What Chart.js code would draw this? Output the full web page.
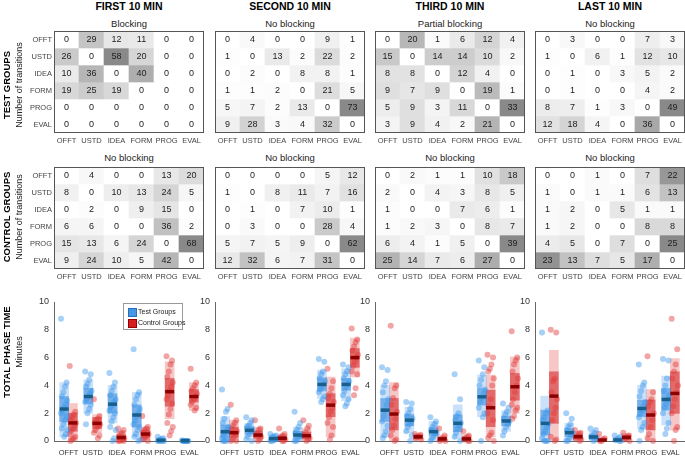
<!DOCTYPE html>
<html><head><meta charset="utf-8">
<script src="https://cdn.jsdelivr.net/npm/chart.js@4/dist/chart.umd.min.js"></script>
<style>
body{margin:0;background:#fff;}
#root{position:relative;width:685px;height:457px;overflow:hidden;font-family:"Liberation Sans",Arial,sans-serif;}
.c{position:absolute;}
.t{position:absolute;white-space:nowrap;color:#111;line-height:1;}
</style></head><body><div id="root"></div>
<script>
// ---------- DATA ----------
const codes = ['OFFT','USTD','IDEA','FORM','PROG','EVAL'];
const periods = ['FIRST 10 MIN','SECOND 10 MIN','THIRD 10 MIN','LAST 10 MIN'];
const testConditions = ['Blocking','No blocking','Partial blocking','No blocking'];
const controlConditions = ['No blocking','No blocking','No blocking','No blocking'];
const yTicks = [0,2,4,6,8,10];

// transition counts (rows: from, cols: to)
const test1 = [[0,29,12,11,0,0],[26,0,58,20,0,0],[10,36,0,40,0,0],[19,25,19,0,0,0],[0,0,0,0,0,0],[0,0,0,0,0,0]];
const test2 = [[0,4,0,0,9,1],[1,0,13,2,22,2],[0,2,0,8,8,1],[1,1,2,0,21,5],[5,7,2,13,0,73],[9,28,3,4,32,0]];
const test3 = [[0,20,1,6,12,4],[15,0,14,14,10,2],[8,8,0,12,4,0],[9,7,9,0,19,1],[5,9,3,11,0,33],[3,9,4,2,21,0]];
const test4 = [[0,3,0,0,7,3],[1,0,6,1,12,10],[0,1,0,3,5,2],[0,1,0,0,4,2],[8,7,1,3,0,49],[12,18,4,0,36,0]];
const ctrl1 = [[0,4,0,0,13,20],[8,0,10,13,24,5],[0,2,0,9,15,0],[6,6,0,0,36,2],[15,13,6,24,0,68],[9,24,10,5,42,0]];
const ctrl2 = [[0,0,0,0,5,12],[1,0,8,11,7,16],[0,1,0,7,10,1],[0,3,0,0,28,4],[5,7,5,9,0,62],[12,32,6,7,31,0]];
const ctrl3 = [[0,2,1,1,10,18],[2,0,4,3,8,5],[1,0,0,7,6,1],[1,2,3,0,8,7],[6,4,1,5,0,39],[25,14,7,6,27,0]];
const ctrl4 = [[0,0,1,0,7,22],[1,0,1,1,6,13],[1,2,0,5,1,1],[1,2,0,0,8,8],[4,5,0,7,0,25],[23,13,7,5,17,0]];

// total phase time (minutes) — period 1
const p1TestMean = [2.3,3.2,2.65,1.87,0.05,0.02];
const p1TestCI = [[1.4,3.2],[2.7,3.8],[2.0,3.4],[1.0,2.6],[0,0.1],[0,0.04]];
const p1TestSD = [[0.3,4.2],[2.0,4.4],[1.3,4.0],[0.3,3.5],[0,0.15],[0,0.05]];
const p1TestPts = [[8.8,4.2,3.9,3.5,3.2,2.9,2.6,2.4,2.2,2.0,1.8,1.5,1.2,0.9,0.8,0.5,0.3],[5.0,4.8,4.4,4.1,3.9,3.6,3.4,3.2,3.0,2.8,2.6,2.3,2.0,1.2],[4.9,4.2,3.9,3.6,3.3,3.0,2.8,2.6,2.4,2.2,2.0,1.7,1.4,1.0,0.8,0.2,0.0],[6.6,3.5,3.3,3.0,2.6,2.3,2.0,1.8,1.5,1.2,1.0,0.8,0.5,0.3,0.1,0.0],[0.3,0.2,0.15,0.1,0.05,0,0,0,0,0],[0.05,0,0,0,0,0,0,0,0]];
const p1CtrlMean = [1.3,1.27,0.25,0.5,3.55,3.2];
const p1CtrlCI = [[0.7,2.0],[0.9,1.7],[0.1,0.45],[0.25,0.8],[2.5,4.5],[2.8,3.7]];
const p1CtrlSD = [[0,2.7],[0.6,1.9],[0,0.7],[0.05,1.0],[1.6,5.7],[2.2,4.2]];
const p1CtrlPts = [[5.4,2.1,1.9,1.7,1.5,1.3,1.1,0.9,0.7,0.5,0.3,0.2,0.1,0],[3.0,1.8,1.6,1.5,1.3,1.2,1.1,1.0,0.8,0.6,0.4,0.2],[0.9,0.8,0.6,0.5,0.3,0.2,0.1,0.05,0,0,0],[1.8,1.0,0.9,0.8,0.6,0.5,0.4,0.3,0.2,0.1,0],[6.1,5.8,5.5,5.0,4.6,4.2,3.9,3.6,3.3,3.0,2.7,2.3,1.9,1.3,1.0,0.7,0.4],[5.2,4.2,4.0,3.8,3.6,3.4,3.2,3.0,2.8,2.6,2.4,2.2]];

// period 2
const p2TestMean = [0.67,0.77,0.17,0.43,4.07,4.07];
const p2TestCI = [[0.25,1.15],[0.5,1.05],[0.08,0.28],[0.2,0.7],[3.6,4.55],[3.65,4.5]];
const p2TestSD = [[0,1.75],[0.3,1.27],[0,0.4],[0,1.0],[3.05,5.1],[2.9,5.2]];
const p2TestPts = [[3.7,2.3,2.1,1.6,1.3,1.0,0.8,0.6,0.4,0.2,0.1,0,0,0],[1.7,1.5,1.3,1.1,1.0,0.8,0.7,0.5,0.3,0.1,0],[0.5,0.4,0.35,0.3,0.2,0.15,0.1,0.05,0,0],[2.1,1.3,1.0,0.8,0.6,0.4,0.3,0.1,0,0],[5.9,5.7,5.0,4.8,4.5,4.3,4.1,3.9,3.7,3.5,3.2,3.0,2.8],[5.5,5.3,5.0,4.8,4.5,4.3,4.1,3.9,3.6,3.3,3.0,2.7,2.5]];
const p2CtrlMean = [0.6,0.43,0.2,0.38,2.58,6.0];
const p2CtrlCI = [[0.25,1.0],[0.2,0.7],[0.05,0.35],[0.15,0.65],[1.75,3.4],[5.3,6.65]];
const p2CtrlSD = [[0,1.5],[0,1.0],[0,0.5],[0,0.9],[0.3,4.6],[4.6,7.4]];
const p2CtrlPts = [[2.6,1.5,1.3,1.1,0.9,0.7,0.5,0.3,0.1,0,0],[1.5,0.9,0.8,0.6,0.4,0.3,0.1,0],[0.9,0.5,0.4,0.3,0.2,0.1,0,0],[1.5,1.1,0.9,0.6,0.4,0.2,0.1,0],[5.2,4.3,3.8,3.4,3.1,2.8,2.4,2.1,1.7,1.3,1.0,0.4,0.1],[8.1,7.3,7.1,6.8,6.5,6.2,6.0,5.7,5.4,5.0,4.8,3.8,3.3]];

// period 3
const p3TestMean = [2.22,1.5,0.67,1.27,3.18,1.44];
const p3TestCI = [[1.4,3.06],[1.1,1.9],[0.4,0.95],[0.67,1.87],[2.58,3.78],[1.1,1.8]];
const p3TestSD = [[0.3,4.0],[0.6,2.45],[0,1.4],[0.2,2.6],[1.75,4.74],[0.7,2.2]];
const p3TestPts = [[5.3,5.1,4.3,4.0,3.5,3.0,2.6,2.2,1.8,1.4,1.1,0.7,0.4,0.2],[2.8,2.7,2.3,2.0,1.8,1.6,1.4,1.2,1.0,0.7,0.4,0],[1.7,1.4,1.2,1.0,0.8,0.6,0.5,0.3,0.2,0],[4.8,3.0,2.0,1.8,1.5,1.3,1.1,0.9,0.6,0.3,0],[5.8,5.3,4.8,4.4,4.0,3.7,3.4,3.1,2.8,2.4,2.0,1.7,0],[2.7,2.4,2.1,1.9,1.6,1.4,1.2,1.0,0.7,0.4]];
const p3CtrlMean = [1.94,0.3,0.15,0.15,2.39,3.9];
const p3CtrlCI = [[0.8,3.06],[0.15,0.45],[0.03,0.3],[0.03,0.3],[1.03,3.66],[2.94,4.86]];
const p3CtrlSD = [[0,4.2],[0.05,0.55],[0,0.45],[0,0.45],[0.3,4.74],[2.0,6.05]];
const p3CtrlPts = [[8.3,4.0,3.8,3.1,2.6,2.1,1.6,1.1,0.8,0.4,0.1,0],[0.5,0.45,0.35,0.3,0.2,0.1],[0.9,0.4,0.2,0.1,0,0],[0.7,0.4,0.3,0.2,0.1,0,0],[6.2,6.0,5.5,5.2,5.0,4.5,4.0,3.0,2.5,2.0,1.5,0.6,0.4,0.2,0],[7.9,6.0,5.8,5.5,5.0,4.5,4.0,3.5,3.0,2.6,2.4,2.2,1.8,1.6]];

// period 4
const p4TestMean = [1.27,0.6,0.29,0.07,2.34,2.99];
const p4TestCI = [[0.43,2.22],[0.3,0.9],[0.12,0.45],[0.02,0.15],[1.75,2.94],[2.22,3.78]];
const p4TestSD = [[0,3.23],[0.05,1.27],[0,0.7],[0,0.25],[0.9,4.0],[1.15,4.67]];
const p4TestPts = [[7.8,2.2,2.0,1.7,1.5,1.2,1.0,0.7,0.5,0.2,0,0,0],[2.0,1.6,1.2,1.0,0.8,0.6,0.4,0.2,0,0],[0.9,0.8,0.6,0.4,0.3,0.2,0.1,0],[0.4,0.3,0.2,0.1,0.05,0,0],[5.5,4.2,4.0,3.6,3.2,2.8,2.5,2.2,2.0,1.7,1.3,1.0,0.8,0],[5.9,5.8,4.5,4.0,3.6,3.3,3.0,2.7,2.4,2.0,1.3,0.9,0.5]];
const p4CtrlMean = [3.23,0.31,0.07,0.26,1.87,3.42];
const p4CtrlCI = [[1.27,4.98],[0.12,0.5],[0.01,0.15],[0.1,0.42],[0.79,2.94],[1.99,4.98]];
const p4CtrlSD = [[0,6.53],[0,0.7],[0,0.3],[0,0.55],[0,3.7],[0.79,5.93]];
const p4CtrlPts = [[8.0,7.8,4.5,4.3,3.5,3.0,2.4,2.0,1.5,0.3,0.1,0],[0.8,0.6,0.5,0.4,0.2,0.1,0],[0.5,0.2,0.1,0,0],[0.6,0.4,0.3,0.2,0.1,0],[6.1,3.5,3.0,2.8,2.5,2.0,1.5,1.0,0.5,0.2,0],[8.8,6.6,5.5,5.0,4.5,4.0,3.5,3.0,2.5,2.0,1.0,0.8,0]];

// ---------- LAYOUT / STYLE ----------
const FN = "'Liberation Sans', Arial, sans-serif";
Chart.defaults.font.family = FN;
const root = document.getElementById('root');
const boxL = [54, 215, 375, 535];
const boxW = 150;

function addCanvas(x,y,w,h){
  const c=document.createElement('canvas'); c.className='c';
  c.style.left=x+'px'; c.style.top=y+'px'; c.width=w; c.height=h;
  c.style.width=w+'px'; c.style.height=h+'px'; root.appendChild(c); return c;
}
function addText(txt, cx, cy, css, rot){
  const d=document.createElement('div'); d.className='t'; d.textContent=txt;
  d.style.left=cx+'px'; d.style.top=cy+'px';
  d.style.transform='translate(-50%,-50%)'+(rot?' rotate(-90deg)':'');
  Object.assign(d.style, css||{}); root.appendChild(d); return d;
}
const noPad = s => { s.paddingLeft=0; s.paddingRight=0; s.paddingTop=0; s.paddingBottom=0; };

const cellText = { id:'cellText', afterDatasetsDraw(chart){
  const ctx=chart.ctx; ctx.save(); ctx.font='9px '+FN; ctx.fillStyle='#222';
  ctx.textAlign='center'; ctx.textBaseline='middle';
  chart.data.datasets.forEach((ds,d)=>{
    chart.getDatasetMeta(d).data.forEach((el,i)=>{
      ctx.fillText(String(ds.data[i].v), el.x, (el.y+el.base)/2 + 0.5);
    });
  });
  ctx.restore();
}};
const frame = { id:'frame', afterDraw(chart){
  const a=chart.chartArea, ctx=chart.ctx; ctx.save(); ctx.strokeStyle='#555'; ctx.lineWidth=1;
  ctx.strokeRect(Math.round(a.left)+0.5, Math.round(a.top)+0.5, Math.round(a.right-a.left)-1, Math.round(a.bottom-a.top)-1);
  ctx.restore();
}};

function heatmap(matrix, col, top, height){
  const showY = col === 0;
  const yW = showY ? 50 : 0;
  const cv = addCanvas(boxL[col]-yW, top, boxW + yW, height + 14);
  const max = Math.max(1, ...matrix.flat());
  const shade = v => { const g = Math.round(255 - 118*v/max); return `rgb(${g},${g},${g})`; };
  const datasets = matrix.map((row, r) => ({
    type:'bar',
    data: row.map((v,c)=>({x: codes[c], y:[r-0.5, r+0.5], v})),
    backgroundColor: row.map(shade), borderWidth:0, grouped:false,
    categoryPercentage:1, barPercentage:1
  }));
  new Chart(cv, {
    type:'bar', data:{labels:codes, datasets},
    options:{ responsive:false, animation:false, devicePixelRatio:1,
      layout:{padding:0, autoPadding:false},
      plugins:{legend:{display:false}, tooltip:{enabled:false}},
      scales:{
        x:{ grid:{display:false, drawTicks:false}, border:{display:false},
            ticks:{font:{size:7.5}, color:'#444', padding:3, maxRotation:0, autoSkip:false},
            afterFit: s=>{ s.height=14; noPad(s); } },
        y:{ type:'linear', min:-0.5, max:5.5, reverse:true, offset:false, display: showY,
            grid:{display:false, drawTicks:false}, border:{display:false},
            afterBuildTicks: s=>{ s.ticks = codes.map((_,i)=>({value:i})); },
            ticks:{ callback: v=>codes[v], font:{size:7.5}, color:'#444', padding:2 },
            afterFit: s=>{ s.width=yW; noPad(s); } }
      }
    },
    plugins:[cellText, frame]
  });
}

const jit = i => (((i*7) % 9) - 4) / 4 * 0.13;
const OFF = 0.18;
const blue = {sd:'rgba(80,160,235,0.30)', ci:'rgba(50,135,220,0.55)', pt:'rgba(60,150,235,0.45)', mean:'rgb(25,95,140)'};
const red = {sd:'rgba(230,70,70,0.30)', ci:'rgba(210,30,30,0.55)', pt:'rgba(225,55,55,0.45)', mean:'rgb(140,0,0)'};

function groupSets(mean, ci, sd, pts, sign, col){
  const xs = c => c + sign*OFF;
  return [
    {type:'bar', data: sd.map((r,c)=>({x:xs(c), y:r})), backgroundColor: col.sd, barThickness:9, grouped:false, borderWidth:0, order:5},
    {type:'bar', data: ci.map((r,c)=>({x:xs(c), y:r})), backgroundColor: col.ci, barThickness:9, grouped:false, borderWidth:0, order:4},
    {type:'scatter', data: pts.flatMap((arr,c)=>arr.map((v,i)=>({x: xs(c)+jit(i), y:v}))), pointRadius:3, backgroundColor: col.pt, borderWidth:0, order:3, clip:false},
    {type:'scatter', data: mean.map((m,c)=>({x:xs(c), y:m})), pointStyle:'line', pointRadius:4.5, borderColor: col.mean, borderWidth:3.5, order:1, clip:false}
  ];
}

function strip(col, T, C){
  const yW = 30;
  const cv = addCanvas(boxL[col]-yW, 296, boxW+yW+2, 161);
  const datasets = [...groupSets(T[0],T[1],T[2],T[3],-1,blue), ...groupSets(C[0],C[1],C[2],C[3],1,red)];
  new Chart(cv, {
    type:'scatter', data:{datasets},
    options:{ responsive:false, animation:false, devicePixelRatio:1,
      layout:{padding:{top:6,right:2,left:0,bottom:0}, autoPadding:false},
      plugins:{legend:{display:false}, tooltip:{enabled:false}},
      scales:{
        x:{ type:'linear', min:-0.6, max:5.6, offset:false,
            grid:{display:false, drawTicks:false}, border:{display:true, color:'#666', width:1},
            afterBuildTicks: s=>{ s.ticks = codes.map((_,i)=>({value:i})); },
            ticks:{ callback: v=>codes[v], font:{size:7.5}, color:'#333', padding:7, maxRotation:0, autoSkip:false },
            afterFit: s=>{ s.height=16; noPad(s); } },
        y:{ type:'linear', min:0, max:10, offset:false,
            grid:{display:false, drawTicks:false}, border:{display:true, color:'#666', width:1},
            afterBuildTicks: s=>{ s.ticks = yTicks.map(v=>({value:v})); },
            ticks:{ font:{size:9}, color:'#333', padding:5 },
            afterFit: s=>{ s.width=yW; noPad(s); } }
      }
    }
  });
}

// ---------- BUILD ----------
const testMats = [test1,test2,test3,test4];
const ctrlMats = [ctrl1,ctrl2,ctrl3,ctrl4];
for (let i=0;i<4;i++){
  const cx = boxL[i] + boxW/2;
  addText(periods[i], cx, 6, {font:'bold 10.5px '+FN, color:'#000'});
  addText(testConditions[i], cx, 23, {font:'9.5px '+FN, color:'#222'});
  addText(controlConditions[i], cx, 157, {font:'9.5px '+FN, color:'#222'});
  heatmap(testMats[i], i, 31, 102);
  heatmap(ctrlMats[i], i, 167, 102);
}
strip(0, [p1TestMean,p1TestCI,p1TestSD,p1TestPts], [p1CtrlMean,p1CtrlCI,p1CtrlSD,p1CtrlPts]);
strip(1, [p2TestMean,p2TestCI,p2TestSD,p2TestPts], [p2CtrlMean,p2CtrlCI,p2CtrlSD,p2CtrlPts]);
strip(2, [p3TestMean,p3TestCI,p3TestSD,p3TestPts], [p3CtrlMean,p3CtrlCI,p3CtrlSD,p3CtrlPts]);
strip(3, [p4TestMean,p4TestCI,p4TestSD,p4TestPts], [p4CtrlMean,p4CtrlCI,p4CtrlSD,p4CtrlPts]);

// row titles
addText('TEST GROUPS', 6, 85, {font:'bold 9.5px '+FN, color:'#000'}, true);
addText('Number of transitions', 19, 85, {font:'9px '+FN, color:'#222'}, true);
addText('CONTROL GROUPS', 6, 217, {font:'bold 9.5px '+FN, color:'#000'}, true);
addText('Number of transitions', 19, 217, {font:'9px '+FN, color:'#222'}, true);
addText('TOTAL PHASE TIME', 6, 352, {font:'bold 9.5px '+FN, color:'#000'}, true);
addText('Minutes', 19, 352, {font:'9px '+FN, color:'#222'}, true);

// legend
const lg = document.createElement('div');
Object.assign(lg.style,{position:'absolute',left:'123px',top:'303px',width:'60px',height:'27px',border:'1px solid #999',background:'#fff',boxSizing:'border-box'});
root.appendChild(lg);
const legendItems = [['Test Groups','rgb(70,150,230)','rgb(40,110,190)'],['Control Groups','rgb(215,30,30)','rgb(150,0,0)']];
legendItems.forEach((it,k)=>{
  const sw=document.createElement('div');
  Object.assign(sw.style,{position:'absolute',left:'4px',top:(4+k*11)+'px',width:'7px',height:'7px',background:it[1],border:'1px solid '+it[2]});
  lg.appendChild(sw);
  const tx=document.createElement('div'); tx.textContent=it[0];
  Object.assign(tx.style,{position:'absolute',left:'14px',top:(3+k*11)+'px',font:'7px '+FN,color:'#222',whiteSpace:'nowrap',lineHeight:'9px'});
  lg.appendChild(tx);
});
</script></body></html>
